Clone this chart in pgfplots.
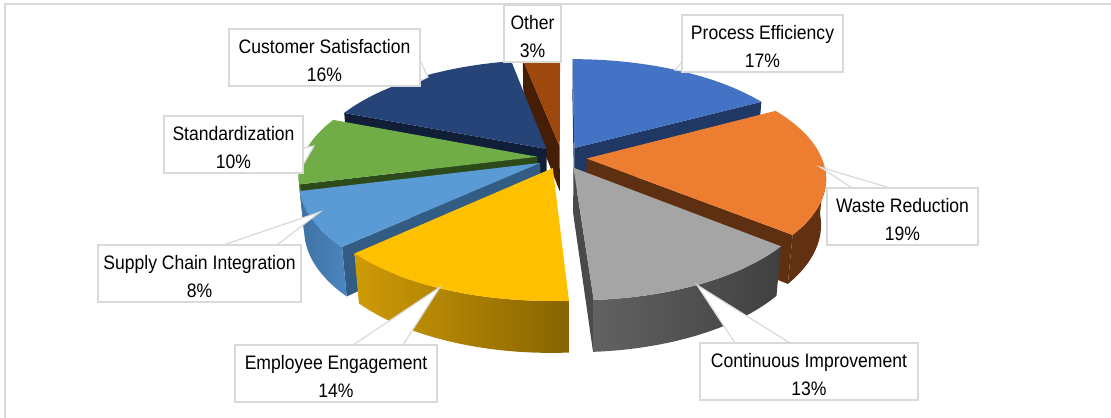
\documentclass[border=0pt]{standalone}
\usepackage{pgfplots}
\pgfplotsset{compat=1.18}
\usepackage{fontspec}
\setmainfont{Liberation Sans}[FakeStretch=0.9]
\definecolor{lblgray}{HTML}{D9D9D9}
\definecolor{PEtop}{HTML}{4472C4}\definecolor{PEside}{HTML}{203864}
\definecolor{WRtop}{HTML}{ED7D31}\definecolor{WRside}{HTML}{5F2F11}\definecolor{WRwall}{HTML}{623112}
\definecolor{CItop}{HTML}{A5A5A5}\definecolor{CIside}{HTML}{4A4A4A}\definecolor{CIwl}{HTML}{626262}\definecolor{CIwr}{HTML}{404040}
\definecolor{EEtop}{HTML}{FFC000}\definecolor{EEwl}{HTML}{CF9B06}\definecolor{EEwr}{HTML}{876400}
\definecolor{SCtop}{HTML}{5B9BD5}\definecolor{SCside}{HTML}{335C85}\definecolor{SCwl}{HTML}{4A86C0}\definecolor{SCwr}{HTML}{3F72A3}
\definecolor{STtop}{HTML}{70AD47}\definecolor{STside}{HTML}{2C4A1A}\definecolor{STwall}{HTML}{4F7A32}
\definecolor{CStop}{HTML}{264478}\definecolor{CSside}{HTML}{101E38}
\definecolor{OTtop}{HTML}{9E480E}\definecolor{OTside}{HTML}{451E05}
% projection parameters
\def\pX{562}\def\pY{260.5}\def\pF{1250}\def\pD{5.32}\def\pS{0.454}\def\pC{0.891}\def\pE{0.105}\def\pH{0.22}
\newcommand\proj[3]{%
  \pgfmathsetmacro\zc{\pD+(#3)*\pC-(#2)*\pS}%
  \pgfmathsetmacro\px{\pX+\pF*(#1)/\zc}%
  \pgfmathsetmacro\py{\pY+\pF*((#2)*\pC+(#3)*\pS)/\zc}%
  \xdef\pts{\pts(\px,\py)}%
}
\newcommand\arcpts[3]{%
  \foreach \kk in {0,...,48}{%
    \pgfmathsetmacro\thv{#2+(#3-#2)*\kk/48}%
    \proj{\ox+sin(\thv)}{#1}{\oz+cos(\thv)}%
  }%
}
\newcommand\drawpts[1]{\edef\tmp{\noexpand\addplot[#1,draw=none] coordinates {\pts};}\tmp}
\newcommand\setslice[2]{%
  \pgfmathsetmacro\aA{3.6*#1}%
  \pgfmathsetmacro\aB{3.6*#2}%
  \pgfmathsetmacro\ox{\pE*sin((\aA+\aB)/2)}%
  \pgfmathsetmacro\oz{\pE*cos((\aA+\aB)/2)}%
}
\newcommand\topface[1]{%
  \gdef\pts{}%
  \proj{\ox}{0}{\oz}%
  \arcpts{0}{\aA}{\aB}%
  \drawpts{fill=#1}%
}
\newcommand\cutface[2]{%
  \gdef\pts{}%
  \proj{\ox}{0}{\oz}%
  \proj{\ox+sin(#1)}{0}{\oz+cos(#1)}%
  \proj{\ox+sin(#1)}{-\pH}{\oz+cos(#1)}%
  \proj{\ox}{-\pH}{\oz}%
  \drawpts{fill=#2}%
}
\newcommand\wall[3]{%
  \gdef\pts{}%
  \arcpts{0}{#1}{#2}%
  \arcpts{-\pH}{#2}{#1}%
  \drawpts{#3}%
}
\newcommand\lblfont{\fontsize{19.5bp}{27.5bp}\selectfont}
\tikzset{box/.style={draw=lblgray, line width=1.2bp, fill=white, inner sep=0pt, minimum height=57bp},
txt/.style={inner sep=0pt, align=center, font=\lblfont, text=black},
ptr/.style={draw=lblgray, line width=1.2bp, fill=white}}
\newcommand\lbl[4]{%
  \node[box, minimum width=#3bp] at (axis cs:#1,#2) {};
  \node[txt] at (axis cs:#1,#2-3) {#4};
}
\begin{document}
\begin{tikzpicture}
\useasboundingbox (0,0) rectangle (1111bp,418bp);
\begin{axis}[at={(0,0)}, anchor=south west, scale only axis, width=1111bp, height=418bp,
  xmin=0, xmax=1111, ymin=0, ymax=418, hide axis, clip=false]
% shares (percent): PE 17, WR 19, CI 13, EE 14, SC 8, ST 10, CS 16, OT 3
% cut faces, back to front
\setslice{97}{100}\cutface{349.2}{OTside}
\setslice{0}{17}\cutface{0}{PEside}\cutface{61.2}{PEside}
\setslice{81}{97}\cutface{291.6}{CSside}
\setslice{71}{81}\cutface{255.6}{STside}
\setslice{17}{36}\cutface{129.6}{WRside}
\setslice{63}{71}\cutface{226.8}{SCside}
\setslice{36}{49}\cutface{176.4}{CIside}
% outer walls
\setslice{17}{36}\wall{95}{129.6}{fill=WRwall}
\setslice{71}{81}\wall{255.6}{262}{fill=STwall}
\setslice{63}{71}\wall{226.8}{255.6}{left color=SCwr,right color=SCwl}
\setslice{36}{49}\wall{129.6}{176.4}{left color=CIwl,right color=CIwr}
\setslice{49}{63}\wall{176.4}{226.8}{left color=EEwl,right color=EEwr}
% top faces
\setslice{0}{17}\topface{PEtop}
\setslice{17}{36}\topface{WRtop}
\setslice{36}{49}\topface{CItop}
\setslice{49}{63}\topface{EEtop}
\setslice{63}{71}\topface{SCtop}
\setslice{71}{81}\topface{STtop}
\setslice{81}{97}\topface{CStop}
\setslice{97}{100}\topface{OTtop}
% frame
\draw[lblgray, line width=2bp] (axis cs:5,0) -- (axis cs:5,413.5) -- (axis cs:1111,413.5);
% labels
\draw[ptr] (axis cs:682,356) -- (axis cs:675,348) -- (axis cs:692,346) -- cycle;
\lbl{762.5}{374.5}{161}{Process Efficiency\\17\%}
\draw[ptr] (axis cs:852,230) -- (axis cs:820,251) -- (axis cs:890,230) -- cycle;
\lbl{902.5}{201.5}{151}{Waste Reduction\\19\%}
\draw[ptr] (axis cs:735,75) -- (axis cs:697,133) -- (axis cs:790,75) -- cycle;
\lbl{809}{46.5}{218}{Continuous Improvement\\13\%}
\draw[ptr] (axis cs:353,73) -- (axis cs:440,131) -- (axis cs:403,73) -- cycle;
\lbl{336}{44.5}{202}{Employee Engagement\\14\%}
\draw[ptr] (axis cs:223,173) -- (axis cs:320,206) -- (axis cs:277,173) -- cycle;
\lbl{199.5}{144.5}{203}{Supply Chain Integration\\8\%}
\draw[ptr] (axis cs:303,270) -- (axis cs:314,272) -- (axis cs:303,253) -- cycle;
\lbl{233.5}{273.5}{139}{Standardization\\10\%}
\draw[ptr] (axis cs:420,358) -- (axis cs:428,341) -- (axis cs:410,332) -- cycle;
\lbl{324.5}{360.5}{191}{Customer Satisfaction\\16\%}
\lbl{532.5}{384.5}{57}{Other\\3\%}
\end{axis}
\end{tikzpicture}
\end{document}
